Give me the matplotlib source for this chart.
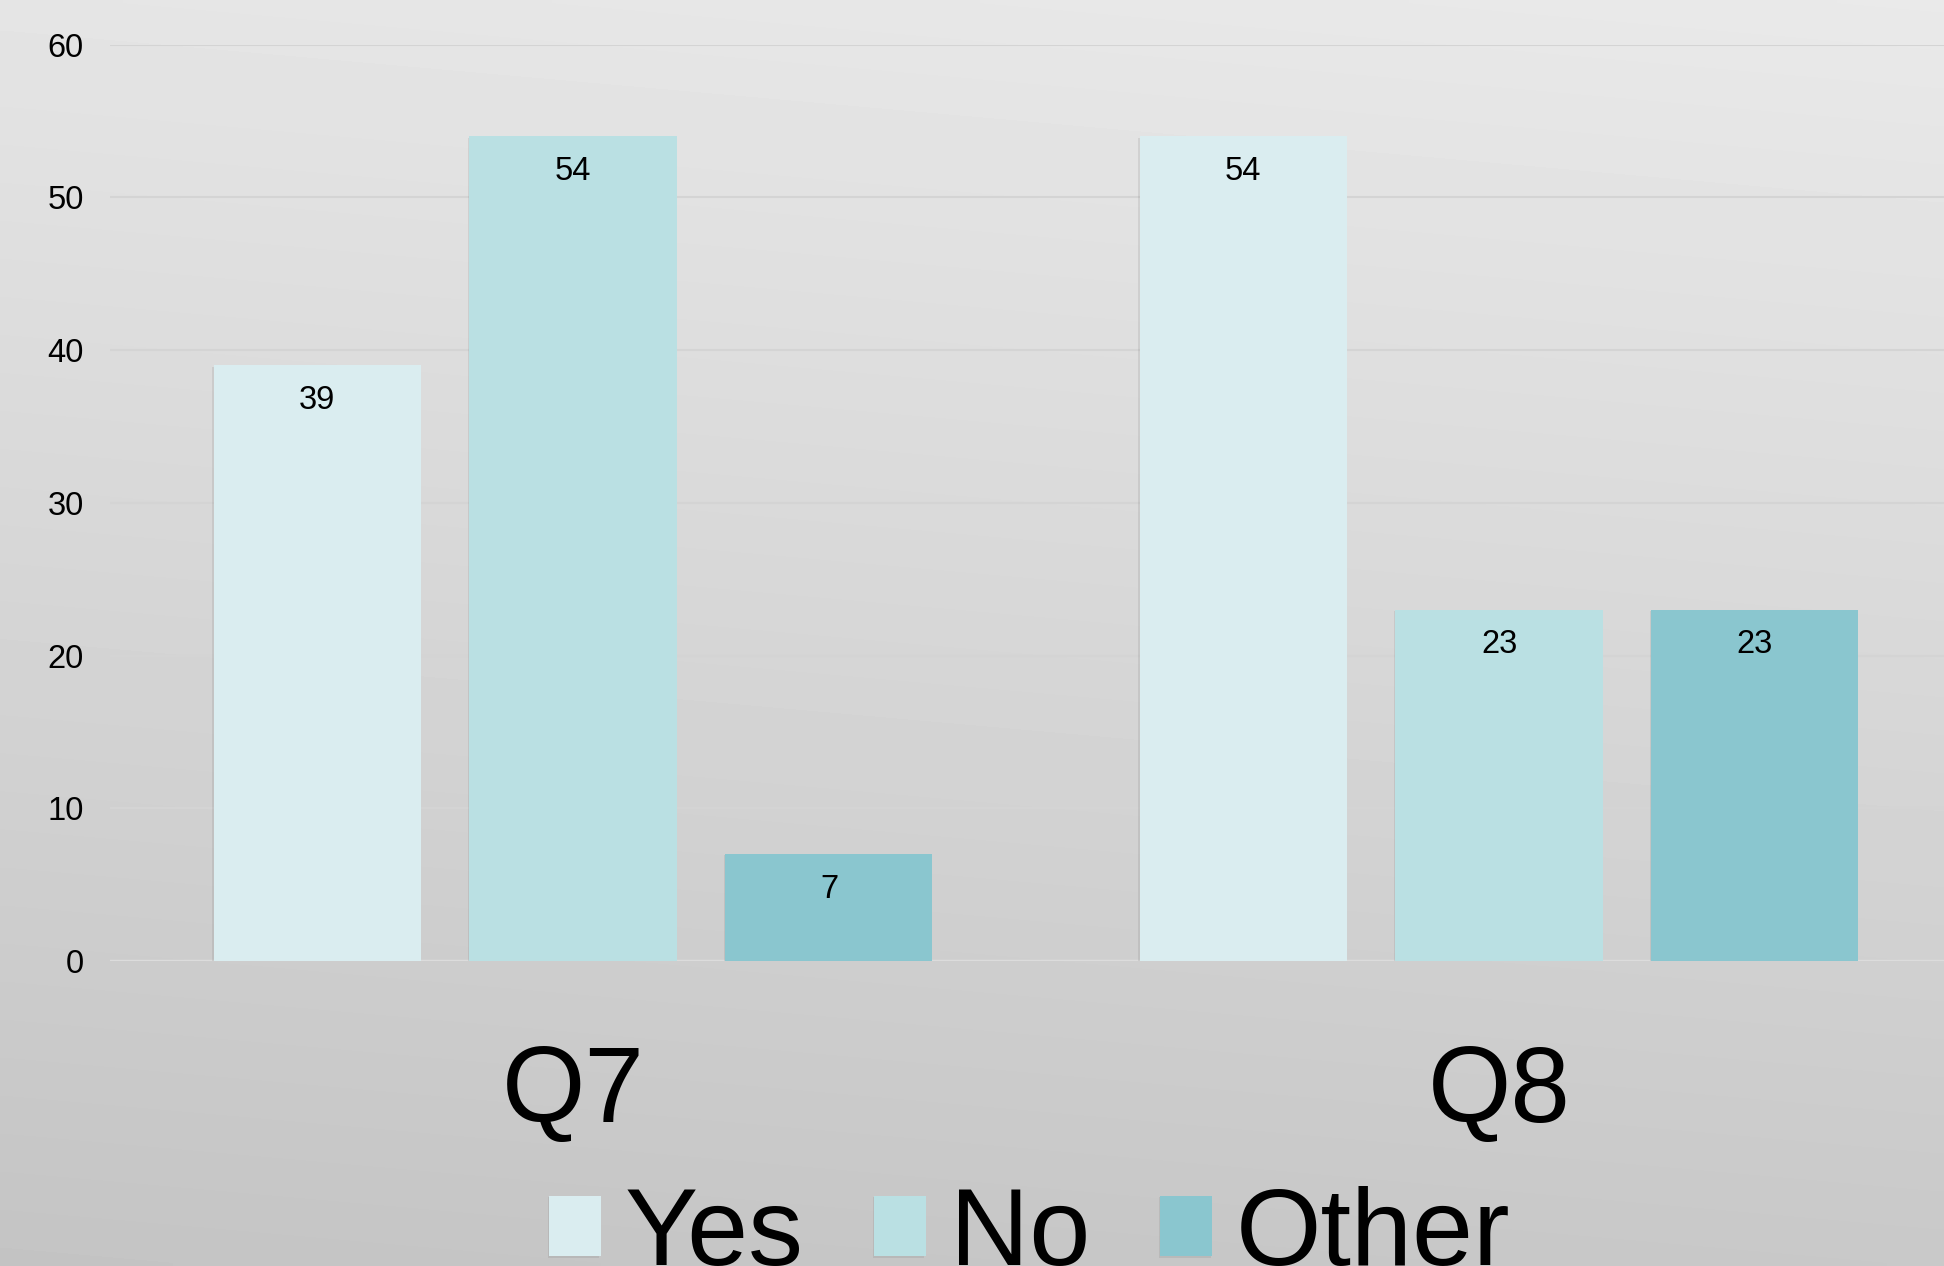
import numpy as np
import matplotlib
matplotlib.use("Agg")
import matplotlib.pyplot as plt
from matplotlib import patheffects as pe

categories = ["Q7", "Q8"]
series_names = ["Yes", "No", "Other"]
yes_vals = [39, 54]
no_vals = [54, 23]
other_vals = [7, 23]
y_ticks = [0, 10, 20, 30, 40, 50, 60]

colors = ["#DAEDF0", "#BAE0E3", "#8AC6CF"]

plt.rcParams['font.family'] = ['Liberation Sans', 'DejaVu Sans']

W, H = 1944, 1266
fig = plt.figure(figsize=(W / 100, H / 100), dpi=100)

# background gradient
bg = fig.add_axes([0, 0, 1, 1], zorder=-10)
yy, xx = np.mgrid[0:1:200j, 0:1:200j]
t = 0.88 * yy + 0.12 * (1 - xx)
top, bottom = 0.915, 0.768
vals = top - (top - bottom) * t
bg.imshow(vals, cmap="gray", vmin=0, vmax=1, aspect="auto",
          extent=[0, 1, 0, 1], origin="upper", interpolation="bilinear")
bg.set_axis_off()

left = 110 / W
right = 1962 / W
bottom_ax = 1 - 961 / H
top_ax = 1 - 44.6 / H
ax = fig.add_axes([left, bottom_ax, right - left, top_ax - bottom_ax])
ax.set_facecolor("none")

x = np.arange(len(categories))
step = 0.2764
width = 0.2236
series = [yes_vals, no_vals, other_vals]
handles = []
for i, (name, vals_s) in enumerate(zip(series_names, series)):
    bars = ax.bar(x + (i - 1) * step, vals_s, width=width, color=colors[i],
                  label=name, zorder=3,
                  path_effects=[pe.SimplePatchShadow(offset=(-1.0, -1.0), alpha=0.12,
                                                     shadow_rgbFace="#555555"),
                                pe.Normal()])
    handles.append(bars)
    for b, v in zip(bars, vals_s):
        ax.annotate(str(v), xy=(b.get_x() + b.get_width() / 2, b.get_height()),
                    xytext=(0, -14), textcoords="offset points",
                    ha="center", va="top", fontsize=23.5, color="black", zorder=5)

ax.set_xlim(-0.5, 1.5)
ax.set_ylim(0, 60)
ax.set_yticks(y_ticks)
ax.set_xticks(x)
ax.set_xticklabels(categories)
for s in ax.spines.values():
    s.set_visible(False)
ax.tick_params(axis="both", length=0)
ax.tick_params(axis="y", labelsize=23.5, pad=19)
ax.tick_params(axis="x", labelsize=77, pad=60)
for yv in y_ticks[1:]:
    ax.axhline(yv, color="#d4d4d4", lw=1.5, zorder=1)
ax.axhline(0, color="#dcdcdc", lw=2.5, zorder=1)

leg = fig.legend(handles=handles, labels=series_names, loc="center",
                 bbox_to_anchor=(1030 / W, 1 - 1237 / H), ncol=3,
                 frameon=False, fontsize=79, handlelength=0.47, handleheight=0.47,
                 handletextpad=0.22, columnspacing=0.64, borderpad=0)

fig.savefig("out.png", dpi=100)
